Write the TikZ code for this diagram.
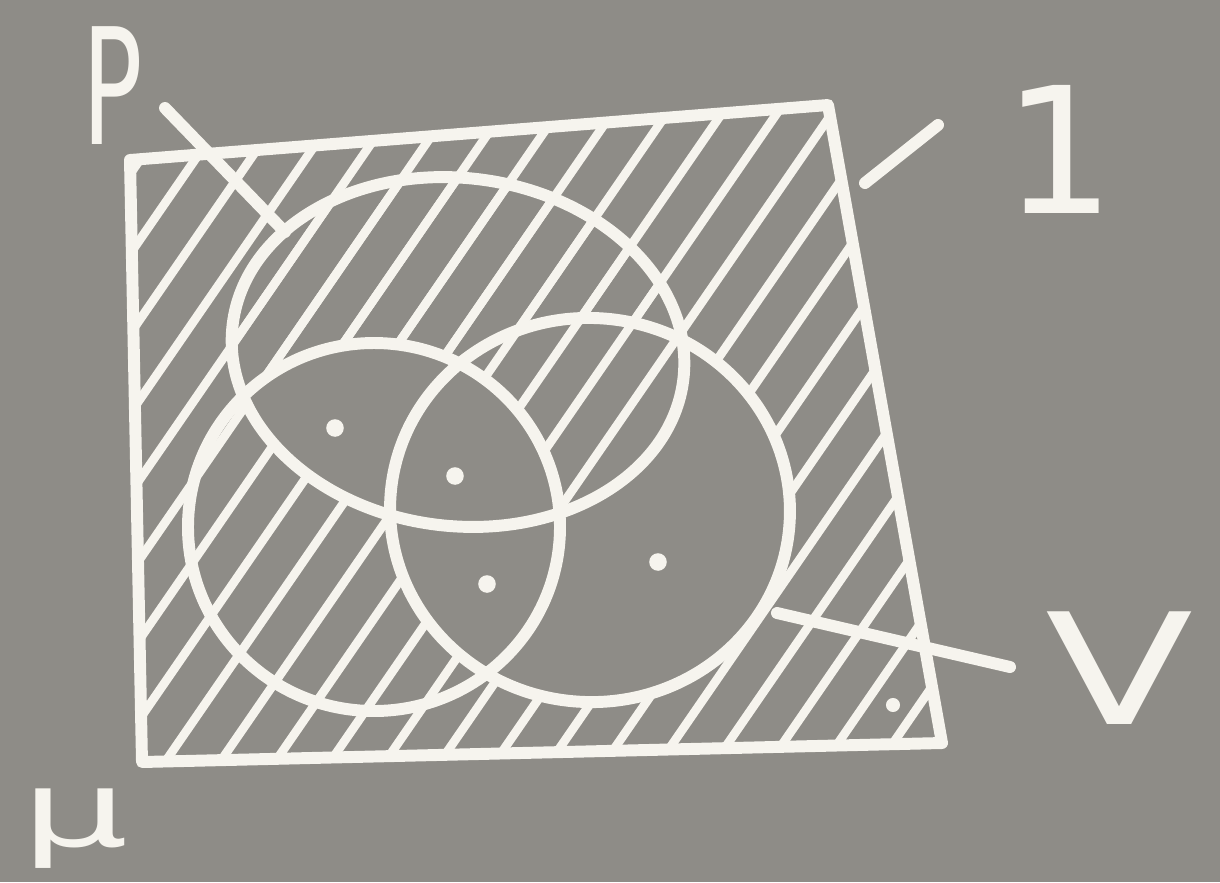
\documentclass[tikz,border=0pt]{standalone}
\usepackage{fontspec}
\usepackage{tikz}
\usetikzlibrary{positioning}

\newfontfamily\chalkfont{DejaVu Sans}

\definecolor{board}{RGB}{142,140,135}
\definecolor{chalk}{RGB}{246,244,238}

% outlines (pixel units of the photo)
\newcommand{\boxpath}{(130,160) -- (828,105) -- (942,743) -- (142,762) -- cycle}
\newcommand{\ellP}{(458,352) ellipse [x radius=227, y radius=174, rotate=-7]}
\newcommand{\ellU}{(374,527) ellipse [x radius=186, y radius=184]}
\newcommand{\ellV}{(590,510) ellipse [x radius=200, y radius=192, rotate=-5]}
\newcommand{\hatchlines}{\foreach \x in {-700,-645,...,1300} {\draw[hatch] (\x,900) -- ++(620,-900);}}

\begin{document}
\begin{tikzpicture}[
  x=0.1mm, y=-0.1mm,
  stroke/.style={draw=chalk, line width=3.4pt, line cap=round, line join=round},
  hatch/.style={draw=chalk, line width=2.5pt, line cap=round},
  dot/.style={circle, fill=chalk, inner sep=0pt, minimum size=5pt},
  lbl/.style={text=chalk, inner sep=0pt},
]
\useasboundingbox (0,0) rectangle (1220,882);
\fill[board] (0,0) rectangle (1220,882);

% hatching: everything in the box ...
\begin{scope}
  \clip \boxpath;
  \hatchlines
\end{scope}
% ... except V outside P
\fill[board] \ellV;
\begin{scope}
  \clip \ellP;
  \hatchlines
\end{scope}
% ... and except P cap U
\begin{scope}
  \clip \ellP;
  \fill[board] \ellU;
\end{scope}

% box and the three sets
\draw[stroke] \boxpath;
\draw[stroke] \ellP;
\draw[stroke] \ellU;
\draw[stroke] \ellV;

% points
\node[dot] (d1) at (335,428) {};
\node[dot] (d2) at (455,476) {};
\node[dot] (d3) at (487,584) {};
\node[dot] (d4) at (658,562) {};
\node[dot, minimum size=4pt] (d5) at (893,705) {};

% labels with their leader lines
\node[lbl, font=\chalkfont\fontsize{46}{50}\selectfont] (labP) at (113,86) {\scalebox{0.62}[1]{P}};
\coordinate (pOut) at (165,108);
\coordinate (pIn) at (285,232);
\draw[stroke] (pOut) -- (pIn);

\node[lbl, font=\chalkfont\fontsize{50}{56}\selectfont] (labOne) at (1059,149) {1};
\coordinate (oneIn) at (865,183);
\coordinate (oneOut) at (938,125);
\draw[stroke] (oneIn) -- (oneOut);

\node[lbl, font=\chalkfont\fontsize{44}{50}\selectfont] (labV) at (1120,668) {\scalebox{1.4}[1]{V}};
\coordinate (vIn) at (777,613);
\coordinate (vOut) at (1010,667);
\draw[stroke] (vIn) -- (vOut);

\node[lbl, font=\chalkfont\fontsize{30}{36}\selectfont] (labMu) at (75,829) {\scalebox{1.6}[1]{μ}};
\end{tikzpicture}
\end{document}
